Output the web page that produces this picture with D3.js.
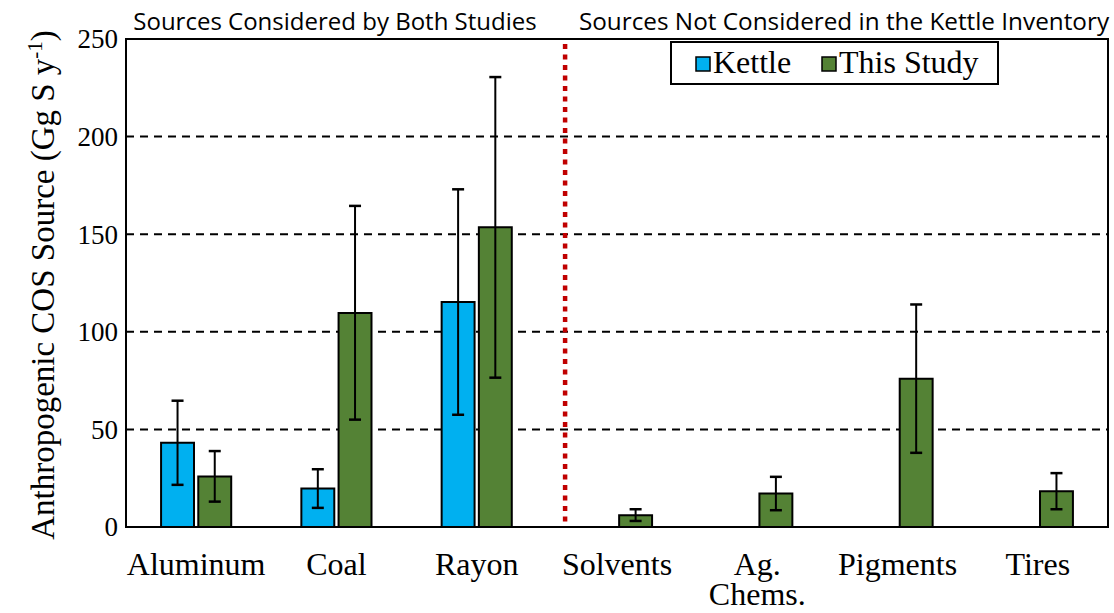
<!DOCTYPE html>
<html>
<head>
<meta charset="utf-8">
<script src="https://cdn.jsdelivr.net/npm/d3@7"></script>
<style>
  html, body { margin: 0; padding: 0; background: #fff; }
  svg { display: block; }
</style>
</head>
<body>
<svg id="chart" width="1114" height="613"></svg>
<script>
// Anthropogenic COS sources (Gg S per year)
const categories = ["Aluminum", "Coal", "Rayon", "Solvents", "Ag. Chems.", "Pigments", "Tires"];
const categoryLines = [["Aluminum"], ["Coal"], ["Rayon"], ["Solvents"], ["Ag.", "Chems."], ["Pigments"], ["Tires"]];
const seriesNames = ["Kettle", "This Study"];
const seriesColors = ["#00B0F0", "#548235"];

const kettle      = [43.2, 19.7, 115.3, 0, 0, 0, 0];
const kettleLow   = [21.6, 9.8, 57.5, null, null, null, null];
const kettleHigh  = [64.7, 29.6, 173, null, null, null, null];

const thisStudy     = [25.9, 109.6, 153.5, 6.0, 17.1, 76.0, 18.3];
const thisStudyLow  = [13.0, 55.0, 76.5, 3.1, 8.6, 38.0, 9.1];
const thisStudyHigh = [38.9, 164.5, 230.5, 9.1, 25.7, 114.0, 27.6];

const yTicks = [0, 50, 100, 150, 200, 250];
const sectionTitles = ["Sources Considered by Both Studies", "Sources Not Considered in the Kettle Inventory"];

const svg = d3.select("#chart");
const margin = { left: 126, right: 6, top: 39, bottom: 86 };
const W = 1114, H = 613;
const plotW = W - margin.left - margin.right;
const plotH = H - margin.top - margin.bottom;

const g = svg.append("g").attr("transform", `translate(${margin.left},${margin.top})`);

const x0 = d3.scaleBand().domain(categories).range([0, plotW]).padding(0);
const x1 = d3.scaleBand().domain(seriesNames)
  .range([x0.bandwidth() * 0.25, x0.bandwidth() * 0.75])
  .paddingInner(0.115).paddingOuter(0);
const y = d3.scaleLinear().domain([0, 250]).range([plotH, 0]);

const serif = "'Liberation Serif', 'Times New Roman', serif";
const sans = "'Open Sans', 'Noto Sans', sans-serif";

// dashed horizontal gridlines
g.append("g").selectAll("line")
  .data(yTicks.filter(t => t > 0 && t < 250))
  .join("line")
  .attr("x1", 0).attr("x2", plotW)
  .attr("y1", d => y(d)).attr("y2", d => y(d))
  .attr("stroke", "#000").attr("stroke-width", 2)
  .attr("stroke-dasharray", "8,6");

// rows of bar data
const rows = categories.map((c, i) => ({
  cat: c,
  bars: [
    { s: seriesNames[0], v: kettle[i], lo: kettleLow[i], hi: kettleHigh[i], color: seriesColors[0] },
    { s: seriesNames[1], v: thisStudy[i], lo: thisStudyLow[i], hi: thisStudyHigh[i], color: seriesColors[1] }
  ]
}));

const groups = g.append("g").selectAll("g")
  .data(rows).join("g")
  .attr("transform", d => `translate(${x0(d.cat)},0)`);

groups.selectAll("path.bar")
  .data(d => d.bars).join("path")
  .attr("class", "bar")
  .attr("d", d => {
    const xa = x1(d.s), xb = x1(d.s) + x1.bandwidth();
    return `M${xa},${y(0)}V${y(d.v)}H${xb}V${y(0)}Z`;
  })
  .attr("fill", d => d.color)
  .attr("stroke", "#000").attr("stroke-width", 2);

// error bars
const eb = groups.selectAll("g.err")
  .data(d => d.bars.filter(b => b.lo != null)).join("g")
  .attr("class", "err");
eb.append("line")
  .attr("x1", d => x1(d.s) + x1.bandwidth() / 2)
  .attr("x2", d => x1(d.s) + x1.bandwidth() / 2)
  .attr("y1", d => y(d.lo)).attr("y2", d => y(d.hi))
  .attr("stroke", "#000").attr("stroke-width", 2);
["lo", "hi"].forEach(k => {
  eb.append("line")
    .attr("x1", d => x1(d.s) + x1.bandwidth() / 2 - 6)
    .attr("x2", d => x1(d.s) + x1.bandwidth() / 2 + 6)
    .attr("y1", d => y(d[k])).attr("y2", d => y(d[k]))
    .attr("stroke", "#000").attr("stroke-width", 2.5);
});

// plot frame
g.append("rect")
  .attr("x", 0).attr("y", 0).attr("width", plotW).attr("height", plotH)
  .attr("fill", "none").attr("stroke", "#000").attr("stroke-width", 2);

// dotted divider between the two groups of sources
const divX = x0(categories[3]) + x0.step() * 0.13;
g.append("line")
  .attr("x1", divX).attr("x2", divX)
  .attr("y1", 5).attr("y2", plotH)
  .attr("stroke", "#C00000").attr("stroke-width", 4.5)
  .attr("stroke-dasharray", "5,5.5");

// y axis tick labels
g.append("g").selectAll("text")
  .data(yTicks).join("text")
  .attr("x", -8).attr("y", d => y(d))
  .attr("dy", "0.35em")
  .attr("text-anchor", "end")
  .attr("font-family", serif).attr("font-size", 27)
  .text(d => d);

// x axis category labels
const xl = g.append("g").selectAll("text")
  .data(categories.map((c, i) => ({ c, lines: categoryLines[i] }))).join("text")
  .attr("x", d => x0(d.c) + x0.bandwidth() / 2)
  .attr("y", plotH + 48)
  .attr("text-anchor", "middle")
  .attr("font-family", serif).attr("font-size", 32);
xl.selectAll("tspan")
  .data(d => d.lines.map((t, j) => ({ t, j, x: x0(d.c) + x0.bandwidth() / 2 })))
  .join("tspan")
  .attr("x", d => d.x)
  .attr("dy", d => d.j === 0 ? 0 : 30)
  .text(d => d.t);

// y axis title
const yt = svg.append("text")
  .attr("transform", `translate(54,${margin.top + plotH / 2 + 2}) rotate(-90)`)
  .attr("text-anchor", "middle")
  .attr("font-family", serif).attr("font-size", 33);
yt.append("tspan").text("Anthropogenic COS Source (Gg S y");
yt.append("tspan").attr("baseline-shift", "super").attr("font-size", 21).text("-1");
yt.append("tspan").text(")");

// section titles above the plot
svg.append("text")
  .attr("x", 335).attr("y", 30)
  .attr("text-anchor", "middle")
  .attr("font-family", sans).attr("font-size", 24)
  .text(sectionTitles[0]);
svg.append("text")
  .attr("x", 844).attr("y", 30)
  .attr("text-anchor", "middle")
  .attr("font-family", sans).attr("font-size", 24.3)
  .text(sectionTitles[1]);

// legend
const lg = svg.append("g").attr("transform", "translate(671,42)");
lg.append("rect").attr("width", 327).attr("height", 42)
  .attr("fill", "#fff").attr("stroke", "#000").attr("stroke-width", 2);
const legendX = [25, 151];
seriesNames.forEach((s, i) => {
  lg.append("rect").attr("x", legendX[i]).attr("y", 15).attr("width", 14).attr("height", 14)
    .attr("fill", seriesColors[i]).attr("stroke", "#000").attr("stroke-width", 1.5);
  lg.append("text").attr("x", legendX[i] + 17).attr("y", 31)
    .attr("font-family", serif).attr("font-size", 32)
    .text(s);
});
</script>
</body>
</html>
